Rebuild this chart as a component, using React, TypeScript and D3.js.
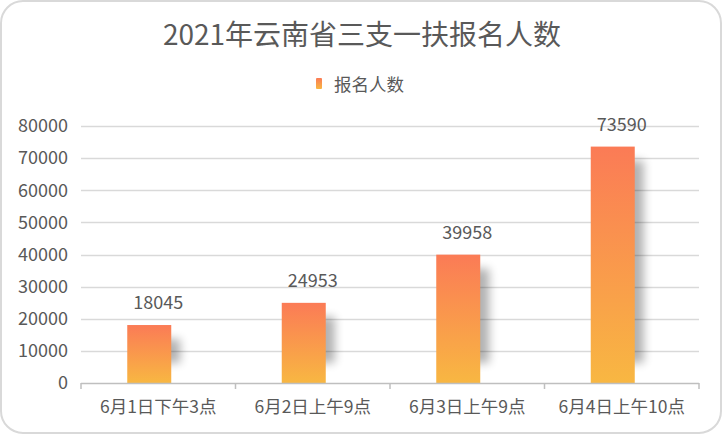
import React from "react";
import * as d3 from "d3";

const categories = ["6月1日下午3点", "6月2日上午9点", "6月3日上午9点", "6月4日上午10点"];
const values = [18045, 24953, 39958, 73590];
const yTicks = [0, 10000, 20000, 30000, 40000, 50000, 60000, 70000, 80000];
const seriesName = "报名人数";
const title = "2021年云南省三支一扶报名人数";

const W = 722;
const H = 434;
const FONT = "'Noto Sans CJK SC', 'Noto Sans', sans-serif";
const TXT = "#595959";

export default function App() {
  const x = d3.scaleBand<string>().domain(categories).range([81, 699]).padding(0);
  const y = d3.scaleLinear().domain([0, 80000]).range([383, 126]);
  const barW = 44;
  const bounds = [...categories.map((c) => x(c) as number), 699];

  return (
    <svg
      width={W}
      height={H}
      style={{ position: "absolute", left: 0, top: 0, fontFamily: FONT }}
    >
      <defs>
        <linearGradient id="barGrad" x1="0" y1="0" x2="0" y2="1">
          <stop offset="0%" stopColor="#fb7b56" />
          <stop offset="100%" stopColor="#f8b742" />
        </linearGradient>
        <filter id="blur" x="-100%" y="-50%" width="300%" height="200%">
          <feGaussianBlur stdDeviation="5" />
        </filter>
      </defs>
      <rect x={1} y={1} width={W - 2} height={H - 2} rx={22} ry={22} fill="#fff" stroke="#d9d9d9" strokeWidth={2} />

      <text x={362} y={45} textAnchor="middle" fontSize={28} fill={TXT}>
        {title}
      </text>

      <rect x={316} y={78} width={6} height={11} rx={1} fill="url(#barGrad)" />
      <text x={334} y={90.5} fontSize={17.5} fill={TXT}>
        {seriesName}
      </text>

      {yTicks.map((t) => (
        <g key={t}>
          {t > 0 && (
            <line x1={81} x2={699} y1={Math.round(y(t)) + 0.5} y2={Math.round(y(t)) + 0.5} stroke="#d9d9d9" strokeWidth={1.5} />
          )}
          <text x={68} y={y(t)} dy="0.35em" textAnchor="end" fontSize={18} fill={TXT}>
            {t}
          </text>
        </g>
      ))}

      {categories.map((c, i) => {
        const cx = (x(c) as number) + x.bandwidth() / 2;
        const v = values[i];
        const h = y(0) - y(v);
        return (
          <g key={c}>
            <rect
              x={cx - 31 + 9}
              y={y(v) + 14}
              width={barW}
              height={Math.max(0, h - 34)}
              fill="#000"
              opacity={0.3}
              filter="url(#blur)"
            />
            <rect x={cx - 31} y={y(v)} width={barW} height={h} fill="url(#barGrad)" />
            <text x={cx} y={y(v) - 16} textAnchor="middle" fontSize={18} fill={TXT}>
              {v}
            </text>
            <text x={cx} y={413} textAnchor="middle" fontSize={17.5} fill={TXT}>
              {c}
            </text>
          </g>
        );
      })}

      <line x1={81} x2={699} y1={383.5} y2={383.5} stroke="#bfbfbf" strokeWidth={1.5} />
      {bounds.map((b, i) => (
        <line key={i} x1={b} x2={b} y1={383} y2={389} stroke="#bfbfbf" strokeWidth={1.5} />
      ))}
    </svg>
  );
}
